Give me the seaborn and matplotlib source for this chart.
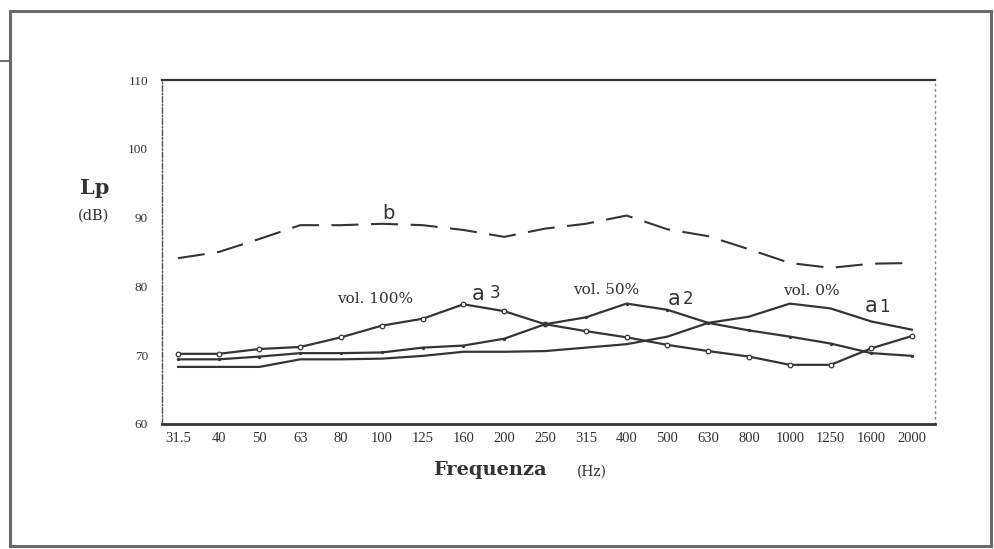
import matplotlib
matplotlib.use("Agg")
import matplotlib.pyplot as plt
from matplotlib.lines import Line2D
from matplotlib.patches import Rectangle
import numpy as np
import pandas as pd
import seaborn as sns

# Third-octave band centre frequencies (Hz)
frequencies = ["31.5", "40", "50", "63", "80", "100", "125", "160", "200", "250",
               "315", "400", "500", "630", "800", "1000", "1250", "1600", "2000"]

# Sound pressure levels Lp (dB)
level_b = [84.1, 85.0, 86.9, 88.9, 88.9, 89.1, 88.9, 88.2, 87.2, 88.4,
           89.1, 90.3, 88.3, 87.3, 85.4, 83.4, 82.7, 83.3, 83.4]
level_a3 = [70.2, 70.2, 70.9, 71.2, 72.6, 74.3, 75.3, 77.4, 76.4, 74.5,
            73.5, 72.6, 71.5, 70.6, 69.8, 68.6, 68.6, 71.0, 72.8]
level_a2 = [69.4, 69.4, 69.8, 70.3, 70.3, 70.4, 71.1, 71.4, 72.4, 74.5,
            75.5, 77.5, 76.6, 74.7, 73.6, 72.7, 71.7, 70.3, 69.9]
level_a1 = [68.3, 68.3, 68.3, 69.4, 69.4, 69.5, 69.9, 70.5, 70.5, 70.6,
            71.1, 71.6, 72.7, 74.7, 75.6, 77.5, 76.8, 74.9, 73.7]

y_ticks = [60, 70, 80, 90, 100, 110]

df = pd.DataFrame({
    "pos": np.arange(len(frequencies)),
    "freq": frequencies,
    "b": level_b,
    "a3": level_a3,
    "a2": level_a2,
    "a1": level_a1,
})

sns.set_theme(style="white")
plt.rcParams["font.family"] = ["Liberation Serif", "DejaVu Serif"]

ink = "#353535"
fig = plt.figure(figsize=(9.94, 5.49), dpi=100)
ax = fig.add_axes([162 / 994, 1 - 424 / 549, (935 - 162) / 994, (424 - 80) / 549])

sns.lineplot(data=df, x="pos", y="b", ax=ax, color=ink, lw=1.5,
             linestyle=(0, (13, 6)))
sns.lineplot(data=df, x="pos", y="a3", ax=ax, color=ink, lw=1.6,
             marker="o", markersize=3.3, markerfacecolor="white",
             markeredgecolor=ink, markeredgewidth=0.9)
sns.lineplot(data=df, x="pos", y="a2", ax=ax, color=ink, lw=1.6,
             marker="o", markersize=1.6, markerfacecolor=ink,
             markeredgecolor=ink)
sns.lineplot(data=df, x="pos", y="a1", ax=ax, color=ink, lw=1.6)

ax.set_xlim(-0.39, 18.56)
ax.set_ylim(60, 110)
ax.set_xticks(df["pos"])
ax.set_xticklabels(frequencies, fontsize=10.5, color="#333333")
ax.set_yticks(y_ticks)
ax.set_yticklabels([str(v) for v in y_ticks], fontsize=9.5, color="#333333")
ax.tick_params(axis="y", direction="in", length=9, width=1.2, color=ink, pad=10)
ax.tick_params(axis="x", direction="in", length=3, width=1.0, color="#555555", pad=6)
ax.set_xlabel("")
ax.set_ylabel("")

for side in ["top", "bottom"]:
    ax.spines[side].set_color(ink)
ax.spines["top"].set_linewidth(1.6)
ax.spines["bottom"].set_linewidth(2.0)
ax.spines["left"].set_color("#555555")
ax.spines["left"].set_linewidth(1.0)
ax.spines["left"].set_linestyle((0, (4, 1.5, 1, 1.5)))
ax.spines["right"].set_color("#888888")
ax.spines["right"].set_linewidth(1.0)
ax.spines["right"].set_linestyle((0, (1, 3)))

# Curve labels
slab = ["DejaVu Serif"]
txt = dict(color="#333333", ha="center", va="center")
ax.text(4.83, 78.2, "vol. 100%", fontsize=11, family=slab, **txt)
ax.text(10.49, 79.5, "vol. 50%", fontsize=11, family=slab, **txt)
ax.text(15.54, 79.3, "vol. 0%", fontsize=11, family=slab, **txt)
sans = ["DejaVu Sans"]
ax.text(7.35, 78.9, "a", fontsize=15, family=sans, **txt)
ax.text(7.77, 79.0, "3", fontsize=12, family=sans, **txt)
ax.text(12.16, 78.1, "a", fontsize=15, family=sans, **txt)
ax.text(12.5, 78.2, "2", fontsize=12, family=sans, **txt)
ax.text(17.0, 77.2, "a", fontsize=15, family=sans, **txt)
ax.text(17.33, 77.0, "1", fontsize=12, family=sans, **txt)
ax.text(5.17, 90.6, "b", fontsize=14, family=sans, **txt)

# Axis titles
fig.text(95 / 994, 1 - 188 / 549, "Lp", fontsize=15, fontweight="bold",
         family=slab, color="#333333", ha="center", va="center")
fig.text(94 / 994, 1 - 216 / 549, "(dB)", fontsize=10.5, family=slab,
         color="#333333", ha="center", va="center")
fig.text(490 / 994, 1 - 470 / 549, "Frequenza", fontsize=14, fontweight="bold",
         family=slab, color="#333333", ha="center", va="center")
fig.text(592 / 994, 1 - 472 / 549, "(Hz)", fontsize=10, family=slab,
         color="#333333", ha="center", va="center")

# Page frame
fig.patches.append(Rectangle((9.5 / 994, 3 / 549), (991 - 9.5) / 994, (538 - 3) / 549,
                             transform=fig.transFigure, fill=False,
                             edgecolor="#6a6a6a", lw=2.2))
fig.lines.append(Line2D([0, 9 / 994], [1 - 61 / 549, 1 - 61 / 549],
                        transform=fig.transFigure, color="#555555", lw=1.2))

fig.savefig("out.png", dpi=100, facecolor="white")
